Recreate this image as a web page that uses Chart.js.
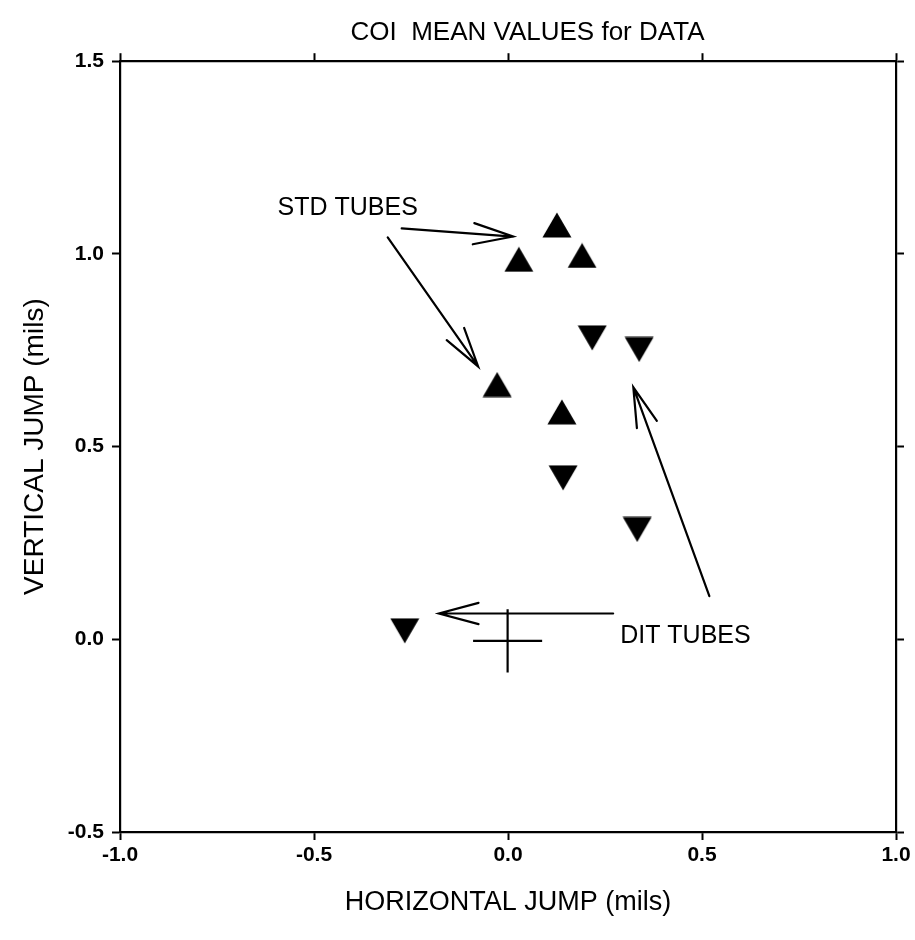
<!DOCTYPE html>
<html>
<head>
<meta charset="utf-8">
<title>COI MEAN VALUES for DATA</title>
<script src="https://cdn.jsdelivr.net/npm/chart.js@4.4.1/dist/chart.umd.min.js"></script>
<style>
    html, body { margin: 0; padding: 0; background: #fff; }
    #chart { display: block; }
</style>
</head>
<body>
<canvas id="chart" width="915" height="940"></canvas>
<script>
// Valores (mils)

// Marcas dos eixos
const xTickValues = [-1.0, -0.5, 0.0, 0.5, 1.0];
const yTickValues = [-0.5, 0.0, 0.5, 1.0, 1.5];

// STD TUBES (triângulos para cima)
const stdX = [0.126, 0.028, 0.191, -0.028, 0.139];
const stdY = [1.075, 0.986, 0.996, 0.661, 0.590];

// DIT TUBES (triângulos para baixo)
const ditX = [0.217, 0.338, 0.142, 0.333, -0.266];
const ditY = [0.782, 0.752, 0.419, 0.285, 0.022];

// Cruz da média (centro e meia largura)
const meanXY = [-0.001, -0.004];
const meanErr = [0.089, 0.082];

// Setas e rótulos (coordenadas nos eixos)
const arrows = [
    { from: [-0.274, 1.066], to: [0.013, 1.045] },
    { from: [-0.310, 1.043], to: [-0.077, 0.708] },
    { from: [0.519, 0.112], to: [0.323, 0.654] },
    { from: [0.271, 0.067], to: [-0.178, 0.067] }
];
const notes = [
    { text: 'STD TUBES', at: [-0.594, 1.118] },
    { text: 'DIT TUBES', at: [0.289, 0.008] }
];

const FONT = '"Liberation Sans", Arial, Helvetica, sans-serif';

document.addEventListener('DOMContentLoaded', function() {
    Chart.defaults.font.family = FONT;
    Chart.defaults.color = '#000';
    initChart();
});

// Triângulo cheio desenhado num canvas pequeno (centrado na caixa)
function makeTriangle(pointUp) {
    const c = document.createElement('canvas');
    c.width = 30;
    c.height = 26;
    const g = c.getContext('2d');
    g.fillStyle = '#000';
    g.beginPath();
    if (pointUp) {
        g.moveTo(15, 0.5);
        g.lineTo(29.5, 25.5);
        g.lineTo(0.5, 25.5);
    } else {
        g.moveTo(0.5, 0.5);
        g.lineTo(29.5, 0.5);
        g.lineTo(15, 25.5);
    }
    g.closePath();
    g.fill();
    return c;
}

// O título original está um pouco à direita do centro
const titleShiftPlugin = {
    id: 'titleShift',
    afterLayout(chart) {
        const t = chart.titleBlock;
        if (t) {
            t.left += 70;
            t.right += 70;
        }
    }
};

// Setas abertas e textos das anotações
const annotationPlugin = {
    id: 'annotations',
    afterDatasetsDraw(chart) {
        const ctx = chart.ctx;
        const sx = chart.scales.x;
        const sy = chart.scales.y;
        ctx.save();
        ctx.strokeStyle = '#000';
        ctx.lineWidth = 2.2;
        ctx.lineCap = 'round';

        arrows.forEach(a => {
            const x1 = sx.getPixelForValue(a.from[0]);
            const y1 = sy.getPixelForValue(a.from[1]);
            const x2 = sx.getPixelForValue(a.to[0]);
            const y2 = sy.getPixelForValue(a.to[1]);
            const ang = Math.atan2(y2 - y1, x2 - x1);
            const len = 41;
            const spread = 15 * Math.PI / 180;
            ctx.beginPath();
            ctx.moveTo(x1, y1);
            ctx.lineTo(x2, y2);
            ctx.moveTo(x2 - len * Math.cos(ang - spread), y2 - len * Math.sin(ang - spread));
            ctx.lineTo(x2, y2);
            ctx.lineTo(x2 - len * Math.cos(ang + spread), y2 - len * Math.sin(ang + spread));
            ctx.stroke();
        });

        ctx.fillStyle = '#000';
        ctx.font = '25px ' + FONT;
        ctx.textAlign = 'left';
        ctx.textBaseline = 'middle';
        notes.forEach(n => {
            ctx.fillText(n.text, sx.getPixelForValue(n.at[0]), sy.getPixelForValue(n.at[1]));
        });
        ctx.restore();
    }
};

// Opções comuns dos eixos (moldura com marcas para fora)
function axisOptions(position, tickValues, showLabels, size) {
    const horizontal = position === 'top' || position === 'bottom';
    return {
        type: 'linear',
        position: position,
        min: tickValues[0],
        max: tickValues[tickValues.length - 1],
        afterBuildTicks: function(scale) {
            scale.ticks = tickValues.map(v => ({ value: v }));
        },
        afterFit: function(scale) {
            if (horizontal) scale.height = size;
            else scale.width = size;
        },
        ticks: {
            display: showLabels,
            color: '#000',
            font: { size: 21, weight: 'bold' },
            padding: horizontal ? 3 : 8,
            maxRotation: 0,
            callback: v => Number(v).toFixed(1)
        },
        grid: {
            drawOnChartArea: false,
            drawTicks: true,
            tickLength: 8,
            tickWidth: 2,
            tickColor: '#000'
        },
        border: { display: true, color: '#000', width: 2.2 }
    };
}

function initChart() {
    const ctx = document.getElementById('chart');

    const stdPoints = stdX.map((x, i) => ({ x: x, y: stdY[i] }));
    const ditPoints = ditX.map((x, i) => ({ x: x, y: ditY[i] }));

    const crossH = [
        { x: meanXY[0] - meanErr[0], y: meanXY[1] },
        { x: meanXY[0] + meanErr[0], y: meanXY[1] }
    ];
    const crossV = [
        { x: meanXY[0], y: meanXY[1] + meanErr[1] },
        { x: meanXY[0], y: meanXY[1] - meanErr[1] }
    ];

    const xAxis = axisOptions('bottom', xTickValues, true, 108);
    xAxis.title = {
        display: true,
        text: 'HORIZONTAL JUMP (mils)',
        color: '#000',
        font: { size: 27 },
        padding: { top: 0, bottom: 21 }
    };
    const yAxis = axisOptions('left', yTickValues, true, 120);
    yAxis.title = {
        display: true,
        text: 'VERTICAL JUMP (mils)',
        color: '#000',
        font: { size: 28 },
        padding: { top: 18, bottom: 0 }
    };

    new Chart(ctx, {
        type: 'scatter',
        data: {
            datasets: [
                {
                    label: 'STD TUBES',
                    data: stdPoints,
                    pointStyle: makeTriangle(true),
                    pointRadius: 15,
                    backgroundColor: '#000',
                    borderColor: '#000'
                },
                {
                    label: 'DIT TUBES',
                    data: ditPoints,
                    pointStyle: makeTriangle(false),
                    pointRadius: 15,
                    backgroundColor: '#000',
                    borderColor: '#000'
                },
                {
                    label: 'mean x',
                    data: crossH,
                    showLine: true,
                    borderColor: '#000',
                    borderWidth: 2.2,
                    pointRadius: 0
                },
                {
                    label: 'mean y',
                    data: crossV,
                    showLine: true,
                    borderColor: '#000',
                    borderWidth: 2.2,
                    pointRadius: 0
                }
            ]
        },
        options: {
            responsive: false,
            animation: false,
            layout: { padding: 0 },
            plugins: {
                legend: { display: false },
                tooltip: { enabled: false },
                title: {
                    display: true,
                    text: 'COI  MEAN VALUES for DATA',
                    color: '#000',
                    font: { size: 26, weight: 'normal' },
                    padding: { top: 17, bottom: 0 }
                }
            },
            scales: {
                x: xAxis,
                x2: axisOptions('top', xTickValues, false, 13),
                y: yAxis,
                y2: axisOptions('right', yTickValues, false, 19)
            }
        },
        plugins: [titleShiftPlugin, annotationPlugin]
    });
}
</script>
</body>
</html>
